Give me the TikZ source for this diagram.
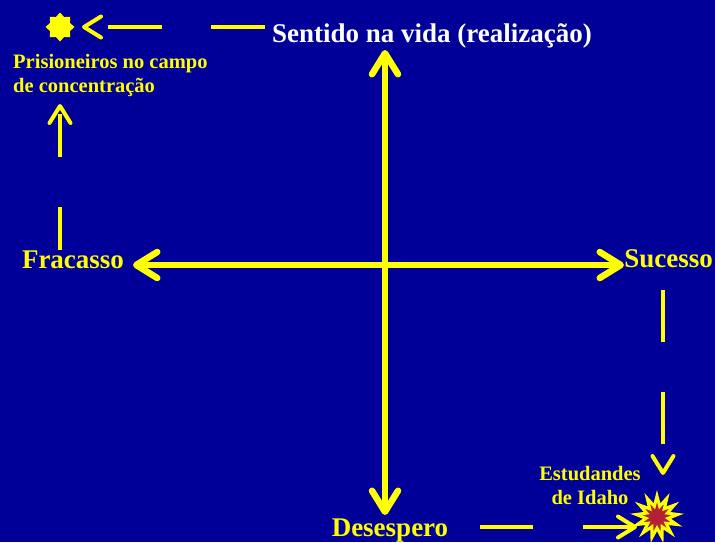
\documentclass[tikz,border=0pt]{standalone}
\usepackage{fontspec}
\setmainfont{Liberation Serif}
\usetikzlibrary{arrows.meta,shapes.geometric}
\definecolor{bg}{RGB}{0,0,153}
\definecolor{yel}{RGB}{255,255,0}
\definecolor{boom}{RGB}{178,34,52}
\tikzset{
  axis/.style={draw=yel,line width=6.5pt,{Straight Barb[length=21pt,width=26pt,round]}-{Straight Barb[length=21pt,width=26pt,round]}},
  dashlink/.style={draw=yel,line width=4pt,-{Straight Barb[length=17pt,width=21pt,round]}},
  bigtext/.style={font=\fontsize{27}{30}\selectfont\bfseries,text=yel,inner sep=0pt},
  smalltext/.style={font=\fontsize{20.5}{24}\selectfont\bfseries,text=yel,inner sep=0pt},
}
\begin{document}
\begin{tikzpicture}[x=1pt,y=-1pt]
\fill[bg] (0,0) rectangle (715,542);
\useasboundingbox (0,0) rectangle (715,542);
% axes
\coordinate (top) at (385,50);
\coordinate (bot) at (385,515);
\coordinate (lft) at (133,265);
\coordinate (rgt) at (624,265);
\draw[axis] (top) -- (bot);
\draw[axis] (lft) -- (rgt);
% labels
\node[bigtext,text=white,anchor=base] (sent) at (432,42) {Sentido na vida (realização)};
\node[bigtext,anchor=base] (fra) at (73,268) {Fracasso};
\node[bigtext,anchor=base east] (suc) at (713,267) {Sucesso};
\node[bigtext,anchor=base] (des) at (390,536) {Desespero};
\node[smalltext,align=left,anchor=base west] (pris) at (13,92) {Prisioneiros no campo\\de concentração};
\node[smalltext,align=center,anchor=base] (idaho) at (590,504) {Estudandes\\de Idaho};
% symbols
\node[star,star points=8,star point ratio=1.35,fill=yel,minimum size=29pt,inner sep=0pt] (sun) at (60,27) {};
\node[star,star points=13,star point ratio=1.9,fill=boom,draw=yel,line width=3pt,minimum size=42pt,inner sep=0pt] (bang) at (657,517) {};
% dashed connectors
\coordinate (a1) at (265,27); \coordinate (a2) at (82,27);
\coordinate (b1) at (60,250); \coordinate (b2) at (60,104);
\coordinate (c1) at (663,290); \coordinate (c2) at (663,475);
\coordinate (d1) at (480,527); \coordinate (d2) at (637,527);
\draw[dashlink,dash pattern=on 54pt off 49pt] (a1) -- (a2);
\draw[dashlink,dash pattern=on 43pt off 50pt] (b1) -- (b2);
\draw[dashlink,dash pattern=on 52pt off 50pt] (c1) -- (c2);
\draw[dashlink,dash pattern=on 53pt off 50pt] (d1) -- (d2);
\end{tikzpicture}
\end{document}
